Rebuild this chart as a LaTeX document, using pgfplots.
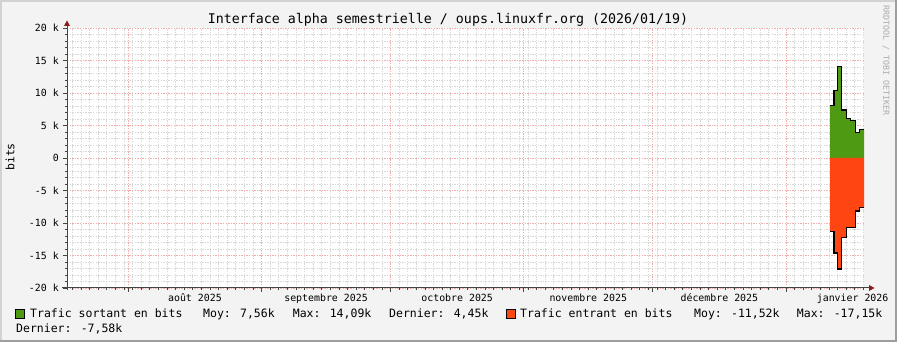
\documentclass[border=0pt]{standalone}
\usepackage{fontspec}
\setmainfont{DejaVu Sans Mono}
\usepackage{pgfplots}
\usepackage{pgfplotstable}
\pgfplotsset{compat=1.18}
\usetikzlibrary{arrows.meta}
\definecolor{bg}{HTML}{F3F3F3}
\definecolor{shadeA}{HTML}{D2D2D2}
\definecolor{shadeB}{HTML}{9E9E9E}
\definecolor{axiscol}{HTML}{454545}
\definecolor{arrowcol}{HTML}{8A1C1C}
\definecolor{majgrid}{HTML}{F2ACAC}
\definecolor{mingrid}{HTML}{D8D8D8}
\definecolor{outgreen}{HTML}{4E9A12}
\definecolor{inred}{HTML}{FF4612}
\definecolor{wm}{HTML}{ABABAB}
\newcommand\axisfont{\fontsize{9.9pt}{11pt}\selectfont}
\newcommand\legfont{\fontsize{11.5pt}{13pt}\selectfont}
\newcommand\titlefont{\fontsize{13.3pt}{15pt}\selectfont}
\newcommand\wmfont{\fontsize{8.3pt}{9pt}\selectfont}

\pgfplotstableread{
x      out    in
194.24 8050  -11300
195.17 10350 -14600
196.03 14050 -17100
196.96 7400  -12200
198.12 6100  -10700
198.96 5800  -10700
200.12 3950  -8150
201.05 4400  -7600
202.15 4400  -7600
}\traffic

\begin{document}
\begin{tikzpicture}[x=1pt,y=1pt]
\useasboundingbox (0,0) rectangle (897,342);
\fill[bg] (0,0) rectangle (897,342);
\fill[shadeA] (0,0) rectangle (2,342);
\fill[shadeA] (0,340) rectangle (897,342);
\fill[shadeB] (895,0) rectangle (897,342);
\fill[shadeB] (0,0) rectangle (897,2);

\begin{axis}[
  at={(67pt,54pt)}, anchor=south west,
  scale only axis, width=797pt, height=260pt,
  xmin=16.74, xmax=202.15, ymin=-20000, ymax=20000,
  axis line style={draw=none},
  axis background/.style={fill=white},
  xtick={31,62,92,123,153,184}, xticklabels={},
  minor xtick={18,20,...,202},
  extra x ticks={46.5,77,107.5,138,168.5,199.5},
  extra x tick labels={août 2025,septembre 2025,octobre 2025,novembre 2025,décembre 2025,janvier 2026},
  extra x tick style={grid=none, major tick length=0pt, xticklabel style={anchor=base, yshift=-13.5pt}},
  ytick={-20000,-15000,-10000,-5000,0,5000,10000,15000,20000},
  yticklabels={-20 k,-15 k,-10 k,-5 k,0,5 k,10 k,15 k,20 k},
  minor y tick num=4,
  scaled y ticks=false,
  tick pos=left, tick align=outside,
  major tick length=4pt, minor tick length=2pt,
  tick style={color=axiscol, line width=0.8pt},
  grid=both,
  major grid style={color=majgrid, line width=0.8pt, dash pattern=on 1.3pt off 1.3pt},
  minor grid style={color=mingrid, line width=0.8pt, dash pattern=on 1.3pt off 1.3pt},
  yticklabel style={font=\axisfont, inner sep=0pt, xshift=-4pt},
  xticklabel style={font=\axisfont},
]
\addplot[fill=outgreen, draw=none, const plot] table[x=x,y=out]{\traffic} \closedcycle;
\addplot[fill=inred, draw=none, const plot] table[x=x,y=in]{\traffic} \closedcycle;
\addplot[black, line width=1.3pt, const plot] table[x=x,y=out]{\traffic};
\addplot[black, line width=1.3pt, const plot] table[x=x,y=in]{\traffic};
\end{axis}

\draw[axiscol, line width=1pt] (67,52) -- (67,316.5);
\draw[axiscol, line width=1pt] (62,54) -- (869.5,54);
\fill[arrowcol] (64,316) -- (70,316) -- (67,321.5) -- cycle;
\fill[arrowcol] (869,51) -- (869,57) -- (874.5,54) -- cycle;

\node[anchor=base, font=\titlefont, inner sep=0pt] at (448,318) {Interface alpha semestrielle / oups.linuxfr.org (2026/01/19)};
\node[rotate=90, font=\legfont, inner sep=0pt] at (10,185) {bits};
\node[rotate=-90, anchor=west, font=\wmfont, text=wm, inner sep=0pt] at (886,337) {RRDTOOL / TOBI OETIKER};

\filldraw[fill=outgreen, draw=black, line width=0.8pt] (15.5,23.7) rectangle (24.5,32.7);
\node[anchor=base west, font=\legfont, inner sep=0pt] at (30,24) {Trafic sortant en bits};
\node[anchor=base west, font=\legfont, inner sep=0pt] at (203,24) {Moy: 7,56k};
\node[anchor=base west, font=\legfont, inner sep=0pt] at (292.7,24) {Max: 14,09k};
\node[anchor=base west, font=\legfont, inner sep=0pt] at (389,24) {Dernier: 4,45k};
\filldraw[fill=inred, draw=black, line width=0.8pt] (506,23.7) rectangle (515,32.7);
\node[anchor=base west, font=\legfont, inner sep=0pt] at (520,24) {Trafic entrant en bits};
\node[anchor=base west, font=\legfont, inner sep=0pt] at (694,24) {Moy: -11,52k};
\node[anchor=base west, font=\legfont, inner sep=0pt] at (796.7,24) {Max: -17,15k};
\node[anchor=base west, font=\legfont, inner sep=0pt] at (16,9.7) {Dernier: -7,58k};
\end{tikzpicture}
\end{document}
